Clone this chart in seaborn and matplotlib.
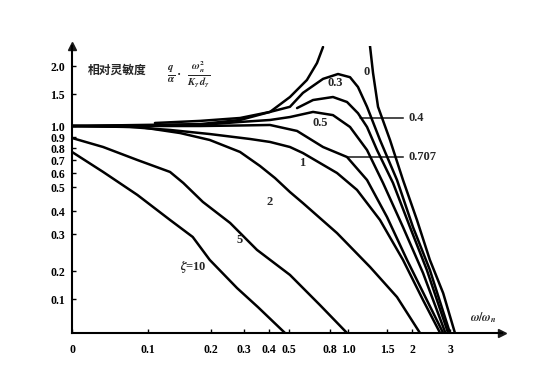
import numpy as np
import pandas as pd
import matplotlib
matplotlib.use("Agg")
import matplotlib.pyplot as plt
import seaborn as sns

# tick values / labels
x_ticks = [0, 0.1, 0.2, 0.3, 0.4, 0.5, 0.8, 1.0, 1.5, 2, 3]
x_ticklabels = ['0', '0.1', '0.2', '0.3', '0.4', '0.5', '0.8', '1.0', '1.5', '2', '3']
y_ticks = [0.1, 0.2, 0.3, 0.4, 0.5, 0.6, 0.7, 0.8, 0.9, 1.0, 1.5, 2.0]
y_ticklabels = ['0.1', '0.2', '0.3', '0.4', '0.5', '0.6', '0.7', '0.8', '0.9', '1.0', '1.5', '2.0']

# the hand-drawn axes are non-uniform: value -> distance from origin (px)
x_anchor_vals = [0, 0.1, 0.2, 0.3, 0.4, 0.5, 0.8, 1.0, 1.5, 2, 3, 4, 5]
x_anchor_pos = [0, 76, 139, 172, 197, 217, 258, 276, 315, 340, 378, 404, 430]
y_anchor_vals = [0, 0.1, 0.2, 0.3, 0.4, 0.5, 0.6, 0.7, 0.8, 0.9, 1.0, 1.5, 2.0, 2.5]
y_anchor_pos = [0, 34, 62, 99, 122, 146, 160, 173, 185, 196, 207, 239, 267, 292]

# curves (omega/omega_n, relative sensitivity)
zeta10_x = [0, 0.041, 0.086, 0.135, 0.171, 0.198, 0.279, 0.356, 0.48]
zeta10_y = [0.767, 0.608, 0.467, 0.361, 0.292, 0.230, 0.139, 0.076, 0.0]

zeta5_x = [0, 0.041, 0.086, 0.135, 0.156, 0.187, 0.258, 0.352, 0.507, 0.727, 0.989]
zeta5_y = [0.891, 0.809, 0.70, 0.608, 0.529, 0.438, 0.348, 0.257, 0.186, 0.082, 0.0]

zeta2_x = [0, 0.089, 0.151, 0.198, 0.288, 0.364, 0.43, 0.507, 0.602, 0.878, 1.282, 1.70, 2.21]
zeta2_y = [1.0, 0.991, 0.936, 0.873, 0.767, 0.654, 0.564, 0.479, 0.433, 0.304, 0.211, 0.107, 0.0]

zeta1_x = [0, 0.076, 0.135, 0.198, 0.324, 0.405, 0.507, 0.602, 0.878, 1.115, 1.41, 1.82, 2.29, 2.74]
zeta1_y = [1.0, 0.991, 0.964, 0.927, 0.882, 0.855, 0.809, 0.758, 0.60, 0.488, 0.361, 0.230, 0.097, 0.0]

zeta0707_x = [0, 0.183, 0.288, 0.405, 0.559, 0.749, 0.989, 1.244, 1.5, 1.90, 2.39, 2.82]
zeta0707_y = [1.0, 1.0, 1.008, 1.016, 0.955, 0.809, 0.725, 0.55, 0.374, 0.230, 0.097, 0.0]

zeta05_x = [0, 0.183, 0.288, 0.405, 0.507, 0.676, 0.833, 1.026, 1.244, 1.449, 1.82, 2.29, 2.88]
zeta05_y = [1.0, 1.016, 1.063, 1.094, 1.14, 1.22, 1.17, 0.991, 0.783, 0.529, 0.330, 0.193, 0.0]

zeta04_x = [0.559, 0.676, 0.833, 0.989, 1.128, 1.244, 1.372, 1.62, 1.96, 2.39, 2.95]
zeta04_y = [1.28, 1.406, 1.453, 1.375, 1.20, 0.991, 0.783, 0.529, 0.330, 0.203, 0.0]

zeta03_x = [0, 0.183, 0.288, 0.405, 0.507, 0.602, 0.749, 0.889, 1.026, 1.128, 1.244, 1.41, 1.70, 2.026, 2.47, 3.0]
zeta03_y = [1.0, 1.03, 1.094, 1.22, 1.30, 1.52, 1.77, 1.857, 1.80, 1.625, 1.30, 0.873, 0.55, 0.330, 0.203, 0.0]

zeta0_left_x = [0.111, 0.183, 0.288, 0.405, 0.507, 0.631, 0.705, 0.749]
zeta0_left_y = [1.047, 1.08, 1.125, 1.22, 1.453, 1.75, 2.06, 2.38]
zeta0_right_x = [1.282, 1.321, 1.385, 1.56, 1.82, 2.13, 2.47, 2.82, 3.19]
zeta0_right_y = [2.4, 1.875, 1.30, 0.873, 0.55, 0.361, 0.230, 0.121, 0.0]

curves = [
    (zeta10_x, zeta10_y), (zeta5_x, zeta5_y), (zeta2_x, zeta2_y),
    (zeta1_x, zeta1_y), (zeta0707_x, zeta0707_y), (zeta05_x, zeta05_y),
    (zeta04_x, zeta04_y), (zeta03_x, zeta03_y),
    (zeta0_left_x, zeta0_left_y), (zeta0_right_x, zeta0_right_y),
]

# curve labels: text, x, y
curve_labels = [
    ('0', 1.244, 1.89), ('0.3', 0.856, 1.70), ('0.5', 0.727, 1.047),
    ('1', 0.595, 0.677), ('2', 0.405, 0.438), ('5', 0.288, 0.284),
    (r'$\zeta$=10', 0.171, 0.211),
]
# labels with leader lines: text, point on curve, text position
leader_labels = [
    ('0.4', (1.154, 1.125), (1.92, 1.125)),
    ('0.707', (1.0, 0.725), (1.92, 0.725)),
]


def xfwd(v):
    return np.interp(v, x_anchor_vals, x_anchor_pos)


def xinv(p):
    return np.interp(p, x_anchor_pos, x_anchor_vals)


def yfwd(v):
    return np.interp(v, y_anchor_vals, y_anchor_pos)


def yinv(p):
    return np.interp(p, y_anchor_pos, y_anchor_vals)


sns.set_theme(style="white")
plt.rcParams['font.family'] = ['Liberation Serif', 'Noto Sans CJK SC']
plt.rcParams['font.weight'] = 'bold'
plt.rcParams['mathtext.fontset'] = 'stix'

fig = plt.figure(figsize=(5.59, 3.73), dpi=100)
ax = fig.add_axes([72 / 559, 40 / 373, 430 / 559, 287 / 373])
ax.set_xscale('function', functions=(xfwd, xinv))
ax.set_yscale('function', functions=(yfwd, yinv))

for cx, cy in curves:
    df = pd.DataFrame({'x': cx, 'y': cy})
    sns.lineplot(data=df, x='x', y='y', color='black', linewidth=1.8,
                 sort=False, estimator=None, ax=ax)

ax.set_xlim(0, 5)
ax.set_ylim(0, 2.4)

for txt, tx, ty in curve_labels:
    ax.text(tx, ty, txt, ha='center', va='center', fontsize=9, fontweight='bold')

for txt, pt, tpos in leader_labels:
    ax.annotate(txt, xy=pt, xytext=tpos, ha='left', va='center', fontsize=9,
                fontweight='bold',
                arrowprops=dict(arrowstyle='-', color='black', lw=1.0,
                                shrinkA=1, shrinkB=0))

# heading: relative sensitivity  q/alpha * wn^2/(K d)
fig.text(88 / 559, 1 - 70 / 373, '相对灵敏度', fontsize=8.5, fontweight='bold',
         family=['Noto Sans CJK SC'], va='center', ha='left')
fig.text(171 / 559, 1 - 75 / 373, r'$\frac{q}{\alpha}$',
         fontsize=11, va='center', ha='center')
fig.text(179 / 559, 1 - 75 / 373, '·', fontsize=9, va='center', ha='center')
fig.text(199 / 559, 1 - 75 / 373, r'$\frac{\omega_n^2}{K_\gamma\, d_\gamma}$',
         fontsize=11, va='center', ha='center')
ax.text(4.27, 0.044, r'$\omega/\omega_n$', fontsize=8.5, ha='center', va='center')

ax.set_xticks(x_ticks)
ax.set_xticklabels(x_ticklabels)
ax.set_yticks(y_ticks)
ax.set_yticklabels(y_ticklabels)
ax.minorticks_off()
ax.tick_params(axis='both', direction='in', length=3, width=1, labelsize=8.5,
               colors='black', bottom=True, left=True)
ax.tick_params(axis='x', pad=8)
ax.tick_params(axis='y', pad=5)
for lab in ax.get_xticklabels() + ax.get_yticklabels():
    lab.set_fontweight('bold')
ax.set_xlabel('')
ax.set_ylabel('')

sns.despine(ax=ax)
for side in ['left', 'bottom']:
    ax.spines[side].set_color('black')
    ax.spines[side].set_linewidth(1.5)
ax.plot(1, 0, '>k', ms=6, transform=ax.get_yaxis_transform(), clip_on=False)
ax.plot(0, 1, '^k', ms=6, transform=ax.get_xaxis_transform(), clip_on=False)

fig.savefig('out.png', dpi=100)
